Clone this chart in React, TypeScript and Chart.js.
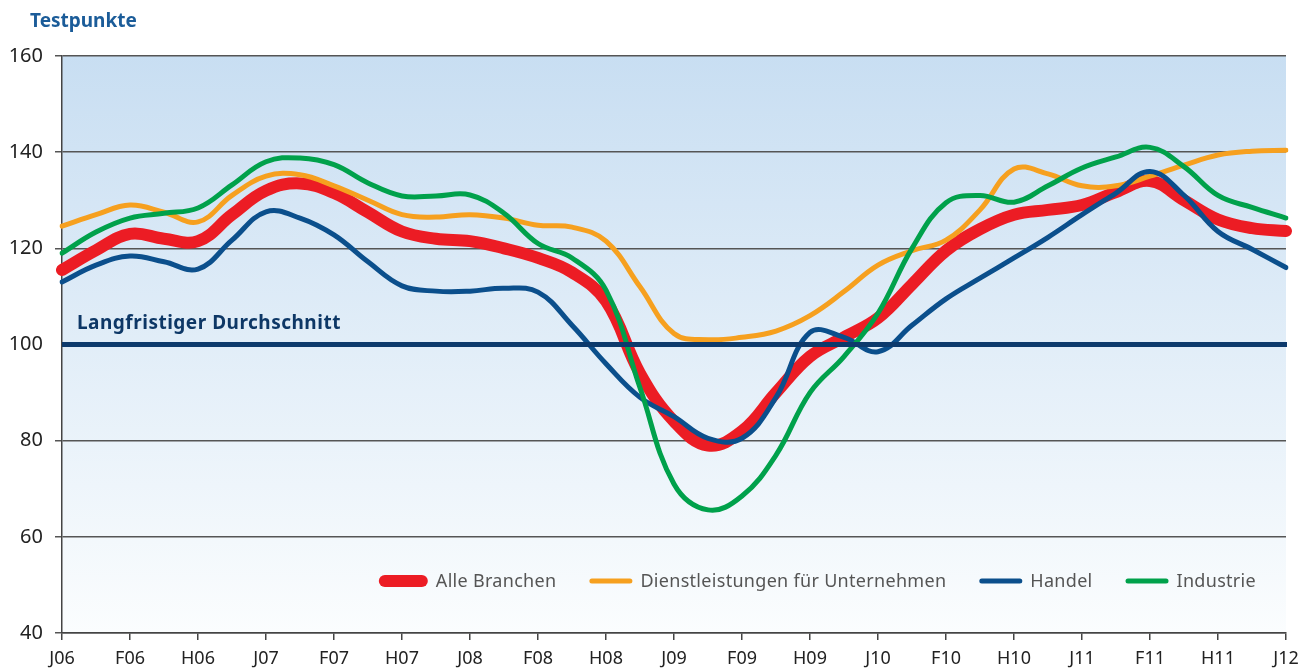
import React, { useEffect, useRef } from 'react';
import { Chart, registerables } from 'chart.js';
Chart.register(...registerables);

const periods = ['J06','','F06','','H06','','J07','','F07','','H07','','J08','','F08','','H08','','J09','','F09','','H09','','J10','','F10','','H10','','J11','','F11','','H11','','J12'];

const alleBranchen = [115.5,119.6,123,122,121.5,127,132,133.5,131.5,127.5,123.5,122,121.5,120,118,115,109,94,84,79,82,90,97.5,101.5,105.5,112.5,119.5,124,127,128,129,131.7,134,130,126,124.2,123.6];
const dienstleistungen = [124.6,127,129,127.5,125.5,131,135,135.3,133,130,127,126.5,127,126.3,124.8,124.4,121.5,112,102.3,101,101.5,102.8,106,111,116.5,119.5,121.7,128,136.5,135.5,133,133,135,137.3,139.4,140.2,140.4];
const handel = [113,116.5,118.4,117.2,115.7,121.7,127.6,126.3,122.8,117.2,112.2,111.1,111.1,111.7,110.9,104,96,89,85,80.5,80.5,89,102.5,101.5,98.5,104,109.5,113.8,118,122.3,127,131.5,136,131,123.5,119.8,116];
const industrie = [119,123.4,126.3,127.3,128.4,133.2,138,138.8,137.4,133.6,130.9,130.9,131.1,127.3,121,118,111.3,91,71,65.6,68.5,77,90,97.5,106.5,120,129.5,131,129.6,133,136.7,139,141,137,131,128.5,126.3];

const seriesNames = ['Alle Branchen', 'Dienstleistungen für Unternehmen', 'Handel', 'Industrie'];
const longTermAverage = 100;
const averageLabel = 'Langfristiger Durchschnitt';
const axisTitle = 'Testpunkte';
const yTicks = [40, 60, 80, 100, 120, 140, 160];

const FONT = '"Noto Sans", "Open Sans", sans-serif';
const COLORS = ['#ec1c24', '#f6a01f', '#0b4f8c', '#00a14b'];
const WIDTHS = [12, 5, 5, 5];

export default function App() {
  const ref = useRef<HTMLCanvasElement>(null);
  useEffect(() => {
    if (!ref.current) return;
    const bgPlugin = {
      id: 'bgGrad',
      beforeDraw(chart: any) {
        const { ctx, chartArea: a } = chart;
        const g = ctx.createLinearGradient(0, a.top, 0, a.bottom);
        g.addColorStop(0, '#c8def2');
        g.addColorStop(1, '#fbfdfe');
        ctx.save();
        ctx.fillStyle = g;
        ctx.fillRect(a.left, a.top, a.right - a.left, a.bottom - a.top);
        ctx.restore();
      },
    };
    const overlayPlugin = {
      id: 'overlay',
      afterDatasetsDraw(chart: any) {
        const { ctx, chartArea: a } = chart;
        const y = chart.scales.y.getPixelForValue(longTermAverage);
        ctx.save();
        ctx.strokeStyle = '#0d3a6c';
        ctx.lineWidth = 5;
        ctx.beginPath();
        ctx.moveTo(a.left, y);
        ctx.lineTo(a.right + 1, y);
        ctx.stroke();
        ctx.fillStyle = '#0d3766';
        ctx.font = `bold 19px ${FONT}`;
        (ctx as any).letterSpacing = '0.5px';
        ctx.textBaseline = 'middle';
        ctx.textAlign = 'left';
        ctx.fillText(averageLabel, a.left + 15, y - 21);

        // legend
        ctx.font = `18px ${FONT}`;
        (ctx as any).letterSpacing = '0.3px';
        const sampleLen = [37, 38, 38, 38];
        const gapAfterSample = 8;
        const gapBetween = 33;
        const widths = chart.data.datasets.map((d: any) => ctx.measureText(d.label).width);
        let total = 0;
        chart.data.datasets.forEach((d: any, i: number) => {
          total += sampleLen[i] + WIDTHS[i] + gapAfterSample + widths[i];
          if (i < 3) total += gapBetween;
        });
        let x = a.right - 30 - total;
        const ly = 581;
        chart.data.datasets.forEach((d: any, i: number) => {
          const lw = WIDTHS[i];
          ctx.strokeStyle = d.borderColor;
          ctx.lineWidth = lw;
          ctx.lineCap = 'round';
          ctx.beginPath();
          ctx.moveTo(x + lw / 2, ly);
          ctx.lineTo(x + lw / 2 + sampleLen[i], ly);
          ctx.stroke();
          x += sampleLen[i] + lw + gapAfterSample;
          ctx.fillStyle = '#555555';
          ctx.fillText(d.label, x, ly + 1);
          x += widths[i] + gapBetween;
        });
        ctx.restore();
      },
      afterDraw(chart: any) {
        const { ctx } = chart;
        ctx.save();
        ctx.fillStyle = '#1b5c99';
        ctx.font = `bold 19px ${FONT}`;
        ctx.textBaseline = 'middle';
        ctx.textAlign = 'left';
        ctx.fillText(axisTitle, 30, 22);
        ctx.restore();
      },
    };

    const data = [alleBranchen, dienstleistungen, handel, industrie];
    const chart = new Chart(ref.current, {
      type: 'line',
      data: {
        labels: periods,
        datasets: data.map((d, i) => ({
          label: seriesNames[i],
          data: d,
          borderColor: COLORS[i],
          backgroundColor: COLORS[i],
          borderWidth: WIDTHS[i],
          borderCapStyle: 'round',
          borderJoinStyle: 'round',
          pointRadius: 0,
          tension: 0.4,
          fill: false,
          order: 4 - i,
        })),
      },
      options: {
        responsive: false,
        animation: false,
        devicePixelRatio: 1,
        layout: { padding: { top: 56, right: 27, left: 0, bottom: 0 } },
        plugins: { legend: { display: false }, tooltip: { enabled: false }, title: { display: false } },
        scales: {
          x: {
            type: 'category',
            offset: false,
            afterFit: (s: any) => { s.height = 37; },
            border: { display: true, color: '#444', width: 1.5 },
            grid: {
              display: true,
              drawOnChartArea: false,
              drawTicks: true,
              tickLength: 7,
              lineWidth: 1.5,
              color: (c: any) => (periods[c.index] ? '#444' : 'rgba(0,0,0,0)'),
            },
            ticks: {
              autoSkip: false,
              maxRotation: 0,
              padding: 8,
              color: '#222',
              font: { family: FONT, size: 18 },
              callback: (_v: any, i: number) => periods[i],
            },
          },
          y: {
            min: 40,
            max: 160,
            afterFit: (s: any) => { s.width = 62; },
            afterBuildTicks: (s: any) => { s.ticks = yTicks.map((v) => ({ value: v })); },
            border: { display: true, color: '#444', width: 1.5 },
            grid: {
              drawTicks: true,
              tickLength: 7,
              lineWidth: 1.5,
              color: (c: any) => (c.tick && c.tick.value === longTermAverage ? 'rgba(0,0,0,0)' : '#555'),
            },
            ticks: {
              padding: 12,
              color: '#222',
              font: { family: FONT, size: 20 },
            },
          },
        },
      },
      plugins: [bgPlugin, overlayPlugin],
    } as any);
    return () => chart.destroy();
  }, []);
  return (
    <div style={{ position: 'fixed', left: 0, top: 0, width: 1313, height: 670, background: '#fff' }}>
      <canvas ref={ref} width={1313} height={670} style={{ display: 'block' }} />
    </div>
  );
}
